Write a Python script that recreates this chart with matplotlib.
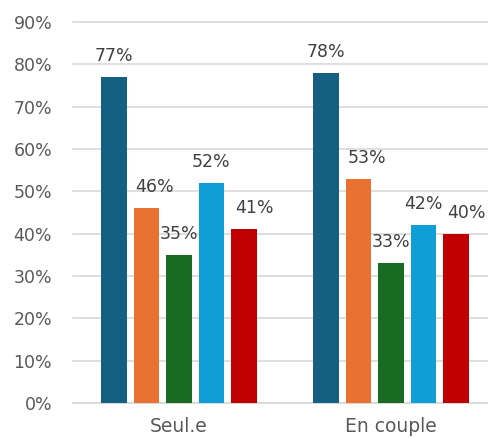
import numpy as np
import matplotlib
matplotlib.use("Agg")
import matplotlib.pyplot as plt

# Data
groups = ["Seul.e", "En couple"]
serie_1 = [0.77, 0.78]
serie_2 = [0.46, 0.53]
serie_3 = [0.35, 0.33]
serie_4 = [0.52, 0.42]
serie_5 = [0.41, 0.40]
y_ticks = [0, 0.1, 0.2, 0.3, 0.4, 0.5, 0.6, 0.7, 0.8, 0.9]

series = [serie_1, serie_2, serie_3, serie_4, serie_5]
colors = ["#156082", "#E97132", "#196B24", "#0F9ED5", "#C00000"]
# horizontal nudge of the data labels (pixels), as Excel placed them
label_dx = [0, 8, 0, 0, 10]

dpi = 100
fig = plt.figure(figsize=(4.89, 4.38), dpi=dpi)
ax = fig.add_axes([73 / 489, 35 / 438, 424 / 489, 381 / 438])

x = np.arange(len(groups))
step = 0.1533
width = 0.1226
px = 72 / dpi  # points per pixel

for i, (vals, col) in enumerate(zip(series, colors)):
    pos = x + (i - 2) * step
    bars = ax.bar(pos, vals, width, color=col, zorder=3)
    for b, v in zip(bars, vals):
        ax.annotate(f"{v * 100:.0f}%",
                    (b.get_x() + b.get_width() / 2, v),
                    xytext=(label_dx[i] * px, 16 * px), textcoords="offset points",
                    ha="center", va="baseline", fontsize=12.5, color="#404040",
                    zorder=4)

ax.set_xlim(-0.5, 1.5)
ax.set_ylim(0, 0.9)
ax.set_yticks(y_ticks)
ax.set_yticklabels([f"{t * 100:.0f}%" for t in y_ticks])
ax.set_xticks(x)
ax.set_xticklabels(groups)

ax.grid(axis="y", color="#D9D9D9", linewidth=1.2, zorder=0)
for gl in ax.get_ygridlines():
    gl.set_clip_on(False)
ax.tick_params(axis="y", length=0, pad=15, labelsize=12.5, labelcolor="#595959")
ax.tick_params(axis="x", length=0, pad=10, labelsize=13.5, labelcolor="#595959")
for s in ["top", "right", "left"]:
    ax.spines[s].set_visible(False)
ax.spines["bottom"].set_color("#D9D9D9")
ax.spines["bottom"].set_linewidth(1.2)

fig.savefig("out.png", dpi=dpi)
